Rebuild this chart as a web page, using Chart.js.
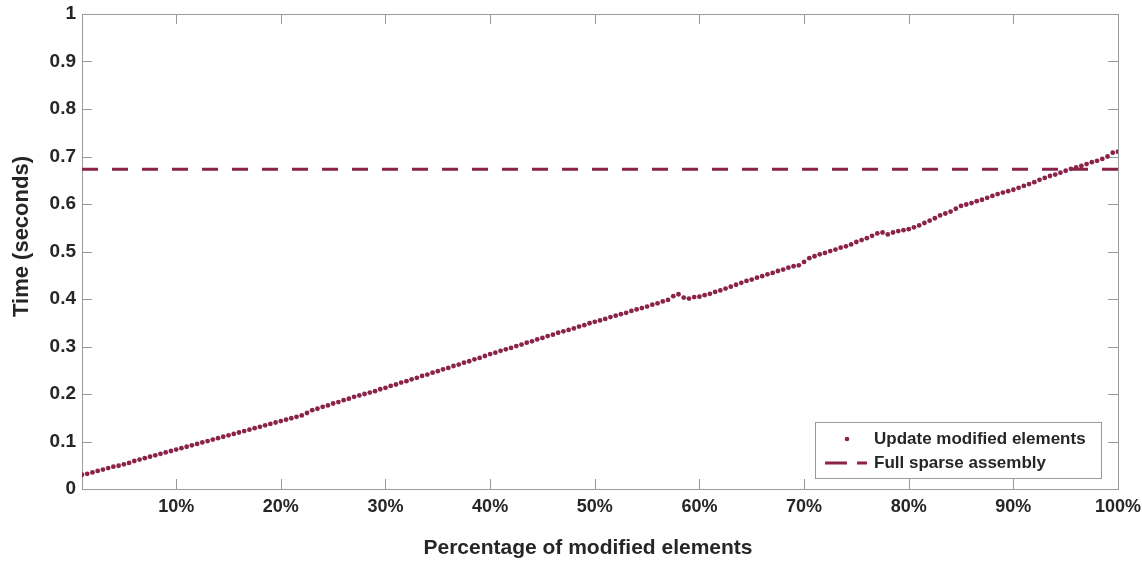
<!DOCTYPE html>
<html>
<head>
<meta charset="utf-8">
<script src="https://cdn.jsdelivr.net/npm/chart.js@4"></script>
<style>
  html, body { margin: 0; padding: 0; background: #fff; }
  #wrap { width: 1142px; height: 561px; }
</style>
</head>
<body>
<div id="wrap"><canvas id="myChart" width="1142" height="561"></canvas></div>
<script>
// x positions: percentage of modified elements, 1% .. 100% in 0.5% steps
const pctStart = 1;
const pctStep = 0.5;

// Update modified elements (seconds)
const updateTimes = [
  0.030, 0.032, 0.035, 0.038, 0.041, 0.044, 0.047, 0.049, 0.052, 0.055,
  0.059, 0.062, 0.065, 0.068, 0.071, 0.074, 0.077, 0.080, 0.083, 0.086,
  0.089, 0.092, 0.095, 0.098, 0.101, 0.104, 0.107, 0.110, 0.113, 0.116,
  0.119, 0.122, 0.125, 0.128, 0.131, 0.134, 0.137, 0.140, 0.143, 0.146,
  0.149, 0.152, 0.155, 0.160, 0.166, 0.169, 0.173, 0.176, 0.180, 0.183,
  0.187, 0.190, 0.194, 0.197, 0.200, 0.203, 0.206, 0.210, 0.213, 0.217,
  0.220, 0.224, 0.227, 0.231, 0.234, 0.238, 0.241, 0.245, 0.248, 0.252,
  0.255, 0.259, 0.262, 0.266, 0.269, 0.273, 0.276, 0.280, 0.284, 0.287,
  0.291, 0.294, 0.297, 0.301, 0.304, 0.308, 0.311, 0.315, 0.318, 0.322,
  0.325, 0.329, 0.332, 0.335, 0.338, 0.342, 0.345, 0.349, 0.352, 0.355,
  0.358, 0.362, 0.365, 0.368, 0.371, 0.375, 0.378, 0.381, 0.384, 0.388,
  0.391, 0.395, 0.398, 0.406, 0.410, 0.403, 0.401, 0.404, 0.405, 0.408,
  0.411, 0.415, 0.418, 0.422, 0.426, 0.430, 0.434, 0.438, 0.441, 0.445,
  0.448, 0.452, 0.455, 0.459, 0.462, 0.466, 0.469, 0.471, 0.478, 0.486,
  0.490, 0.494, 0.497, 0.501, 0.504, 0.508, 0.511, 0.515, 0.520, 0.524,
  0.528, 0.533, 0.538, 0.540, 0.536, 0.540, 0.543, 0.545, 0.547, 0.551,
  0.555, 0.560, 0.565, 0.570, 0.576, 0.580, 0.584, 0.590, 0.596, 0.599,
  0.602, 0.606, 0.609, 0.613, 0.617, 0.621, 0.624, 0.627, 0.630, 0.634,
  0.638, 0.642, 0.646, 0.651, 0.655, 0.659, 0.662, 0.666, 0.670, 0.674,
  0.677, 0.680, 0.684, 0.688, 0.691, 0.695, 0.700, 0.708, 0.710
];

// Full sparse assembly (constant, seconds)
const fullAssembly = 0.673;

const xTicks = [10, 20, 30, 40, 50, 60, 70, 80, 90, 100];
const yTicks = [0, 0.1, 0.2, 0.3, 0.4, 0.5, 0.6, 0.7, 0.8, 0.9, 1];

const seriesNames = ['Update modified elements', 'Full sparse assembly'];
const xTitle = 'Percentage of modified elements';
const yTitle = 'Time (seconds)';

const maroon = '#8a2249';
const axisGray = '#9a9a9a';
const textDark = '#262626';
const FONT = "'Liberation Sans', Arial, Helvetica, sans-serif";

const updatePoints = updateTimes.map((v, i) => ({ x: pctStart + i * pctStep, y: v }));
const fullPoints = [{ x: 1, y: fullAssembly }, { x: 100, y: fullAssembly }];

// box + inward ticks, MATLAB style
const framePlugin = {
  id: 'frame',
  beforeDatasetsDraw(chart) {
    const { ctx, chartArea: a, scales } = chart;
    ctx.save();
    ctx.strokeStyle = axisGray;
    ctx.lineWidth = 1;
    ctx.strokeRect(Math.round(a.left) + 0.5, Math.round(a.top) + 0.5,
      Math.round(a.right - a.left), Math.round(a.bottom - a.top));
    ctx.beginPath();
    const tl = 10;
    xTicks.forEach(v => {
      const px = Math.round(scales.x.getPixelForValue(v)) + 0.5;
      ctx.moveTo(px, a.bottom); ctx.lineTo(px, a.bottom - tl);
      ctx.moveTo(px, a.top); ctx.lineTo(px, a.top + tl);
    });
    yTicks.forEach(v => {
      const py = Math.round(scales.y.getPixelForValue(v)) + 0.5;
      ctx.moveTo(a.left, py); ctx.lineTo(a.left + tl, py);
      ctx.moveTo(a.right, py); ctx.lineTo(a.right - tl, py);
    });
    ctx.stroke();

    // axis titles (sit a little off-centre in the original)
    ctx.fillStyle = textDark;
    ctx.textAlign = 'center';
    ctx.textBaseline = 'middle';
    ctx.font = 'bold 21px ' + FONT;
    ctx.fillText(xTitle, (a.left + a.right) / 2 - 12, a.bottom + 59);
    ctx.translate(22, (a.top + a.bottom) / 2 - 15);
    ctx.rotate(-Math.PI / 2);
    ctx.font = 'bold 22px ' + FONT;
    ctx.fillText(yTitle, 0, 0);
    ctx.restore();
  }
};

// legend drawn inside the plot, lower right
const legendPlugin = {
  id: 'boxLegend',
  afterDraw(chart) {
    const { ctx, chartArea: a } = chart;
    const bx = a.right - 303, by = a.bottom - 67, bw = 286, bh = 56;
    ctx.save();
    ctx.fillStyle = '#fff';
    ctx.fillRect(bx, by, bw, bh);
    ctx.strokeStyle = axisGray;
    ctx.lineWidth = 1;
    ctx.strokeRect(Math.round(bx) + 0.5, Math.round(by) + 0.5, bw, bh);

    const r1 = by + 17, r2 = by + 41;
    ctx.fillStyle = maroon;
    ctx.beginPath();
    ctx.arc(bx + 32, r1, 2.3, 0, Math.PI * 2);
    ctx.fill();

    ctx.strokeStyle = maroon;
    ctx.lineWidth = 3;
    ctx.beginPath();
    ctx.moveTo(bx + 10, r2); ctx.lineTo(bx + 32, r2);
    ctx.moveTo(bx + 42, r2); ctx.lineTo(bx + 52, r2);
    ctx.stroke();

    ctx.fillStyle = textDark;
    ctx.font = 'bold 17px ' + FONT;
    ctx.textBaseline = 'middle';
    ctx.textAlign = 'left';
    ctx.fillText(seriesNames[0], bx + 59, r1);
    ctx.fillText(seriesNames[1], bx + 59, r2);
    ctx.restore();
  }
};

const ctx = document.getElementById('myChart');

new Chart(ctx, {
  type: 'scatter',
  data: {
    datasets: [{
      label: seriesNames[0],
      data: updatePoints,
      pointRadius: 2.4,
      pointBackgroundColor: maroon,
      pointBorderWidth: 0,
      showLine: false
    }, {
      label: seriesNames[1],
      type: 'line',
      data: fullPoints,
      borderColor: maroon,
      borderWidth: 3,
      borderDash: [16, 14],
      pointRadius: 0,
      fill: false
    }]
  },
  options: {
    responsive: false,
    animation: false,
    layout: { padding: { top: 14, right: 24, left: 0, bottom: 0 } },
    plugins: {
      legend: { display: false },
      tooltip: { enabled: false }
    },
    scales: {
      x: {
        type: 'linear',
        min: 1,
        max: 100,
        afterBuildTicks: s => { s.ticks = xTicks.map(v => ({ value: v })); },
        afterFit: s => { s.height = 72; s.paddingLeft = 0; s.paddingRight = 0; },
        grid: { display: false, drawTicks: false },
        border: { display: false },
        ticks: {
          padding: 7,
          color: textDark,
          font: { family: FONT, size: 18, weight: 'bold' },
          maxRotation: 0,
          callback: v => v + '%'
        }
      },
      y: {
        min: 0,
        max: 1,
        afterBuildTicks: s => { s.ticks = yTicks.map(v => ({ value: v })); },
        afterFit: s => { s.width = 82; s.paddingTop = 0; s.paddingBottom = 0; },
        grid: { display: false, drawTicks: false },
        border: { display: false },
        ticks: {
          padding: 6,
          color: textDark,
          font: { family: FONT, size: 19, weight: 'bold' },
          callback: v => String(Math.round(v * 10) / 10)
        }
      }
    }
  },
  plugins: [framePlugin, legendPlugin]
});
</script>
</body>
</html>
